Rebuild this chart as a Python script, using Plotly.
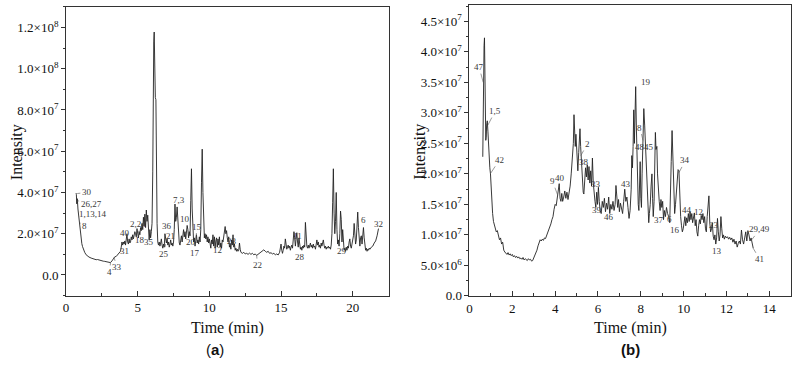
import plotly.graph_objects as go

# ---------------- Panel (a) data (time in min, intensity in 1e7) ----------------
time_a = [0.70,0.72,0.75,0.78,0.80,0.83,0.87,0.90,0.93,0.97,1.00,1.05,1.10,1.15,1.20,1.30,1.40,1.50,1.60,1.75,
          1.90,2.00,2.10,2.20,2.30,2.40,2.50,2.60,2.70,2.80,2.90,3.00,3.10,3.20,3.30,3.40,3.50,3.60,3.70,3.80,
          3.85,3.90,3.95,4.00,4.05,4.10,4.15,4.20,4.25,4.30,4.35,4.40,4.45,4.50,4.55,4.60,4.65,4.70,4.75,4.80,
          4.85,4.90,4.95,5.00,5.05,5.10,5.15,5.20,5.25,5.30,5.35,5.40,5.45,5.50,5.55,5.60,5.65,5.70,5.75,5.80,
          5.85,5.90,5.95,6.00,6.05,6.08,6.12,6.15,6.18,6.20,6.23,6.27,6.30,6.35,6.40,6.45,6.50,6.55,6.60,6.65,
          6.70,6.75,6.80,6.85,6.90,6.95,7.00,7.05,7.10,7.15,7.20,7.25,7.30,7.35,7.40,7.45,7.50,7.55,7.60,7.65,
          7.70,7.75,7.80,7.85,7.90,7.95,8.00,8.05,8.10,8.15,8.20,8.25,8.30,8.35,8.40,8.45,8.50,8.55,8.60,8.65,
          8.70,8.75,8.80,8.85,8.90,8.95,9.00,9.05,9.10,9.15,9.20,9.25,9.30,9.35,9.40,9.45,9.50,9.55,9.60,9.65,
          9.70,9.75,9.80,9.85,9.90,9.95,10.00,10.05,10.10,10.15,10.20,10.25,10.30,10.35,10.40,10.45,10.50,10.55,10.60,10.65,
          10.70,10.75,10.80,10.85,10.90,10.95,11.00,11.05,11.10,11.15,11.20,11.25,11.30,11.35,11.40,11.45,11.50,11.55,11.60,11.65,
          11.70,11.75,11.80,11.85,11.90,11.95,12.00,12.05,12.10,12.15,12.20,12.30,12.40,12.50,12.60,12.70,12.80,12.90,13.00,13.10,
          13.20,13.30,13.40,13.50,13.60,13.70,13.80,13.90,14.00,14.10,14.20,14.30,14.40,14.50,14.60,14.70,14.80,14.90,14.95,15.00,
          15.05,15.10,15.15,15.20,15.25,15.30,15.35,15.40,15.50,15.55,15.60,15.65,15.70,15.75,15.80,15.85,15.90,15.95,16.00,16.05,
          16.10,16.15,16.20,16.25,16.30,16.35,16.40,16.45,16.50,16.55,16.60,16.65,16.70,16.75,16.80,16.85,16.90,16.95,17.00,17.05,
          17.10,17.15,17.20,17.25,17.30,17.35,17.40,17.45,17.50,17.55,17.60,17.65,17.70,17.75,17.80,17.85,17.90,17.95,18.00,18.05,
          18.10,18.15,18.20,18.25,18.30,18.35,18.40,18.45,18.50,18.55,18.60,18.65,18.70,18.75,18.80,18.85,18.90,18.95,19.00,19.05,
          19.10,19.15,19.20,19.25,19.30,19.35,19.40,19.45,19.50,19.55,19.60,19.65,19.70,19.75,19.80,19.85,19.90,19.95,20.00,20.05,
          20.10,20.15,20.20,20.25,20.30,20.35,20.40,20.45,20.50,20.55,20.60,20.65,20.70,20.75,20.80,20.85,20.90,20.95,21.00,21.05,
          21.10,21.15,21.20,21.30,21.40,21.50,21.60,21.70,21.80]
intensity_a = [3.97,3.90,3.45,3.70,3.55,3.20,2.90,2.65,2.45,2.15,1.90,1.70,1.52,1.38,1.25,1.10,0.98,0.92,0.87,0.82,
               0.78,0.76,0.74,0.75,0.72,0.70,0.68,0.67,0.66,0.64,0.63,0.62,0.60,0.68,0.82,0.88,0.90,0.98,1.05,1.15,
               1.35,1.60,1.45,1.60,1.50,1.65,1.45,1.75,2.00,1.60,1.50,1.75,1.55,1.60,1.85,1.70,1.95,1.75,1.90,2.10,
               2.00,1.85,2.25,2.05,1.80,2.10,1.95,2.30,2.15,2.50,2.20,2.80,2.40,2.95,2.30,3.15,2.60,2.90,1.90,1.70,
               2.20,1.80,2.10,2.50,5.00,9.50,11.30,11.78,10.00,11.00,8.60,8.50,5.00,2.50,1.60,1.45,1.60,1.40,1.55,1.75,
               1.45,1.30,1.50,1.35,2.00,1.80,1.55,1.75,1.45,1.60,1.35,1.50,1.70,1.45,1.55,1.40,1.60,2.20,3.44,2.60,
               2.80,3.30,2.50,1.90,1.55,1.45,1.70,1.90,1.60,2.00,2.20,1.85,2.10,1.75,2.05,2.40,2.20,1.80,2.10,1.90,
               3.60,5.15,3.20,2.00,1.60,1.80,1.40,1.65,1.95,1.55,1.70,1.50,1.85,1.60,2.20,4.50,6.10,4.00,2.10,1.80,
               2.00,1.75,1.95,1.60,1.85,1.55,1.75,1.40,1.30,1.70,1.50,1.95,1.40,1.85,1.30,1.65,1.80,1.35,1.75,1.45,
               1.85,1.35,1.55,1.30,1.70,1.60,1.90,2.10,2.35,2.00,2.15,1.80,1.60,1.85,1.35,1.50,1.25,1.70,1.45,1.95,
               1.35,1.50,1.20,1.30,1.15,1.25,1.15,1.20,1.55,1.25,1.10,1.05,1.10,1.02,1.05,1.00,1.06,1.00,1.05,0.98,
               1.02,0.95,1.00,1.05,1.10,1.18,1.22,1.15,1.10,1.15,1.05,1.08,1.02,1.05,0.98,1.02,0.97,1.10,1.35,1.50,
               1.20,1.05,1.20,1.40,1.30,1.75,1.50,1.25,1.45,1.30,1.40,1.20,1.35,1.45,1.30,1.60,2.10,1.80,1.40,1.75,
               2.05,1.60,1.35,1.80,1.40,1.25,1.35,1.20,1.40,1.30,1.45,1.35,2.55,1.80,1.40,1.30,1.45,1.30,1.40,1.55,
               1.35,1.45,1.30,1.50,1.35,1.40,1.25,1.45,1.70,1.45,1.60,1.35,1.45,1.30,1.55,1.40,1.50,1.70,1.45,1.30,
               1.40,1.25,1.35,1.30,1.40,1.30,1.35,1.25,1.45,2.00,3.50,5.15,3.00,2.00,2.60,4.00,2.20,1.50,1.70,1.40,
               2.00,3.10,2.70,1.60,2.20,1.40,1.20,1.30,1.15,1.35,1.20,1.40,1.30,1.60,1.75,1.40,1.30,1.50,1.70,1.90,
               2.50,2.00,1.50,1.70,2.40,3.05,2.30,1.60,1.40,1.80,1.90,1.50,2.00,2.30,1.80,1.40,1.20,1.30,1.15,1.25,
               1.20,1.30,1.25,1.35,1.40,1.55,1.65,1.90,2.25]

# ---------------- Panel (b) data ----------------
time_b = [0.62,0.64,0.66,0.68,0.70,0.72,0.74,0.76,0.78,0.80,0.83,0.86,0.89,0.92,0.95,0.98,1.01,1.04,1.08,1.12,
          1.16,1.20,1.25,1.30,1.35,1.40,1.45,1.50,1.55,1.60,1.65,1.70,1.75,1.80,1.85,1.90,1.95,2.00,2.05,2.10,
          2.15,2.20,2.25,2.30,2.35,2.40,2.45,2.50,2.55,2.60,2.65,2.70,2.75,2.80,2.85,2.90,2.95,3.00,3.05,3.10,
          3.15,3.20,3.25,3.30,3.35,3.40,3.45,3.50,3.55,3.60,3.65,3.70,3.75,3.80,3.85,3.90,3.95,4.00,4.05,4.10,
          4.15,4.19,4.23,4.27,4.31,4.35,4.40,4.45,4.50,4.55,4.60,4.65,4.70,4.75,4.80,4.85,4.88,4.91,4.94,4.97,
          5.00,5.03,5.06,5.10,5.13,5.16,5.19,5.22,5.25,5.28,5.31,5.34,5.38,5.42,5.46,5.50,5.54,5.58,5.62,5.66,
          5.70,5.74,5.78,5.82,5.86,5.90,5.94,5.98,6.02,6.06,6.10,6.15,6.20,6.25,6.30,6.35,6.40,6.45,6.50,6.55,
          6.60,6.65,6.70,6.75,6.80,6.84,6.88,6.92,6.96,7.00,7.05,7.10,7.15,7.20,7.25,7.30,7.35,7.40,7.45,7.50,
          7.55,7.58,7.61,7.64,7.67,7.70,7.73,7.76,7.79,7.82,7.85,7.88,7.91,7.94,7.97,8.00,8.03,8.06,8.10,8.14,
          8.18,8.22,8.26,8.30,8.34,8.37,8.40,8.44,8.48,8.52,8.55,8.58,8.62,8.65,8.68,8.71,8.75,8.78,8.82,8.86,
          8.90,8.94,8.98,9.02,9.06,9.10,9.15,9.20,9.25,9.30,9.35,9.38,9.42,9.46,9.50,9.54,9.58,9.62,9.66,9.70,
          9.74,9.78,9.82,9.86,9.90,9.94,9.98,10.02,10.06,10.10,10.14,10.18,10.22,10.26,10.30,10.34,10.38,10.42,10.46,10.50,
          10.54,10.58,10.62,10.66,10.70,10.74,10.78,10.82,10.86,10.90,10.94,10.98,11.02,11.06,11.10,11.14,11.18,11.22,11.26,11.30,
          11.34,11.38,11.42,11.46,11.50,11.54,11.58,11.62,11.66,11.70,11.74,11.78,11.82,11.86,11.90,11.95,12.00,12.05,12.10,12.15,
          12.20,12.25,12.30,12.35,12.40,12.45,12.50,12.55,12.60,12.65,12.70,12.75,12.80,12.85,12.90,12.95,13.00,13.05,13.10,13.15,
          13.20,13.25]
intensity_b = [2.28,3.60,3.40,4.10,4.23,3.50,3.00,2.55,2.60,2.80,2.87,2.70,2.40,2.25,2.10,2.00,1.75,1.51,1.35,1.22,
               1.15,1.12,1.05,1.07,0.98,0.92,0.95,0.85,0.88,0.75,0.72,0.70,0.68,0.71,0.67,0.69,0.66,0.68,0.64,0.66,
               0.63,0.65,0.62,0.64,0.61,0.62,0.60,0.63,0.59,0.61,0.60,0.58,0.61,0.59,0.60,0.57,0.58,0.62,0.66,0.70,
               0.75,0.82,0.88,0.92,0.90,0.93,0.91,0.95,0.94,0.99,1.03,1.06,1.12,1.18,1.25,1.30,1.42,1.50,1.48,1.62,
               1.70,1.84,1.60,1.55,1.68,1.55,1.62,1.72,1.60,1.70,1.58,1.68,1.80,2.00,2.20,2.50,2.97,2.70,2.45,2.65,
               2.40,2.20,2.05,2.35,2.60,2.74,2.45,2.20,2.00,1.80,1.70,1.67,1.90,2.10,1.95,2.15,1.90,2.12,1.85,2.05,
               1.80,2.26,1.85,1.65,1.55,1.45,1.70,1.50,1.78,1.55,1.40,1.35,1.55,1.45,1.60,1.38,1.52,1.42,1.62,1.35,
               1.50,1.42,1.55,1.40,1.50,1.81,1.55,1.45,1.58,1.38,1.52,1.40,1.35,1.55,1.75,1.55,1.62,1.45,1.27,1.40,
               1.75,2.30,2.10,2.45,3.05,2.50,2.90,3.43,2.80,2.30,1.90,1.50,1.40,1.70,2.20,1.60,1.45,2.00,2.60,3.07,
               2.80,2.40,2.00,1.70,1.40,1.20,1.35,1.50,1.80,2.00,1.60,1.30,1.55,2.20,2.68,2.40,2.45,2.00,1.65,1.55,
               1.40,1.58,1.45,1.55,1.25,1.40,1.30,1.45,1.35,1.30,1.20,1.50,2.20,2.71,2.30,1.60,1.35,1.50,1.75,2.00,
               2.07,2.05,1.60,1.30,1.15,1.05,1.10,1.20,1.30,1.15,1.28,1.20,1.35,1.22,1.38,1.25,1.35,1.20,1.32,1.36,
               1.15,1.25,1.05,0.98,1.15,1.25,1.18,1.32,1.25,1.35,1.20,1.30,1.10,1.05,1.30,1.50,1.64,1.20,1.05,1.10,
               1.20,0.98,0.92,1.00,0.85,0.95,1.27,1.05,0.90,1.00,1.30,1.10,0.95,1.00,0.93,0.98,0.95,0.97,0.93,0.96,
               0.92,0.95,0.88,0.93,0.85,0.90,0.80,0.86,0.90,0.85,1.08,0.92,0.85,0.95,1.05,0.90,1.07,1.00,0.90,0.95,
               0.85,0.78]

# Peak labels: (text, label_x, label_y, target_x or None, target_y)
labels_a = [("30", 1.45, 4.00, 0.78, 3.95), ("26,27", 1.75, 3.45, 0.80, 3.60), ("1,13,14", 1.85, 2.97, 0.86, 3.05),
            ("8", 1.30, 2.38, 0.93, 2.55), ("4", 3.05, 0.15, 3.10, 0.60), ("33", 3.55, 0.37, 3.35, 0.85),
            ("31", 4.05, 1.14, 3.85, 1.35), ("40", 4.08, 2.06, None, None), ("2,24", 5.00, 2.46, 5.10, 2.05),
            ("18", 5.17, 1.70, None, None), ("35", 5.80, 1.59, None, None), ("36", 7.07, 2.39, None, None),
            ("21", 7.30, 1.89, 7.15, 1.60), ("25", 6.80, 1.03, 6.95, 1.50), ("7,3", 7.90, 3.65, None, None),
            ("10", 8.30, 2.73, 8.45, 2.40), ("15", 9.14, 2.35, 9.05, 1.70), ("20", 8.70, 1.60, None, None),
            ("17", 9.00, 1.08, None, None), ("12", 10.60, 1.22, None, None), ("23", 11.55, 1.66, None, None),
            ("22", 13.35, 0.48, 13.30, 0.95), ("11", 16.16, 1.87, None, None), ("28", 16.34, 0.87, None, None),
            ("29", 19.25, 1.14, None, None), ("6", 20.75, 2.65, None, None), ("32", 21.80, 2.49, None, None)]
labels_b = [("47", 0.45, 3.75, 0.64, 3.50), ("1,5", 1.20, 3.03, 0.86, 2.80), ("42", 1.40, 2.23, 0.97, 2.00),
            ("9", 3.88, 1.88, 4.12, 1.65), ("40", 4.22, 1.93, None, None), ("2", 5.50, 2.49, 5.20, 2.30),
            ("38", 5.35, 2.19, None, None), ("33", 5.92, 1.84, None, None), ("39", 5.97, 1.41, None, None),
            ("46", 6.51, 1.29, None, None), ("43", 7.29, 1.83, None, None), ("19", 8.25, 3.50, None, None),
            ("8", 7.96, 2.76, 8.10, 2.55), ("48", 7.94, 2.44, None, None), ("45", 8.37, 2.44, None, None),
            ("34", 10.08, 2.22, 9.78, 2.02), ("37", 8.84, 1.24, None, None), ("6", 9.35, 1.26, None, None),
            ("16", 9.61, 1.08, 9.92, 1.08), ("44", 10.17, 1.40, None, None), ("12", 10.68, 1.37, None, None),
            ("23", 11.44, 1.17, None, None), ("13", 11.55, 0.74, None, None), ("29,49", 13.55, 1.09, 13.18, 0.92),
            ("41", 13.55, 0.60, 13.25, 0.78)]

SCALE = 1e7
SERIF = "Liberation Serif, Times New Roman, serif"
AX = "#333333"
LABEL_FONT = dict(family=SERIF, size=9, color="#3a3a3a")

fig = go.Figure()
fig.add_trace(go.Scatter(x=time_a, y=[v * SCALE for v in intensity_a], mode="lines",
                         line=dict(color="#222222", width=0.9), xaxis="x", yaxis="y", showlegend=False))
fig.add_trace(go.Scatter(x=time_b, y=[v * SCALE for v in intensity_b], mode="lines",
                         line=dict(color="#222222", width=0.9), xaxis="x2", yaxis="y2", showlegend=False))

ya_vals = [0, 2e7, 4e7, 6e7, 8e7, 1e8, 1.2e8]
ya_text = ["0.0", "2.0×10<sup>7</sup>", "4.0×10<sup>7</sup>", "6.0×10<sup>7</sup>", "8.0×10<sup>7</sup>",
           "1.0×10<sup>8</sup>", "1.2×10<sup>8</sup>"]
yb_vals = [i * 0.5e7 for i in range(10)]
yb_text = ["0.0", "5.0×10<sup>6</sup>"] + ["%.1f×10<sup>7</sup>" % (v / 1e7) for v in yb_vals[2:]]

common_axis = dict(showline=True, linecolor=AX, linewidth=1, mirror=True, showgrid=False, zeroline=False,
                   tickfont=dict(family=SERIF, size=13, color="#111111"), tickcolor=AX)

fig.update_layout(
    width=795, height=379, margin=dict(l=0, r=0, t=0, b=0),
    paper_bgcolor="white", plot_bgcolor="white",
    xaxis=dict(domain=[0.0796, 0.4868], range=[0, 22.5], tickvals=[0, 5, 10, 15, 20], ticks="inside", ticklen=5,
               minor=dict(dtick=2.5, tick0=0, ticks="inside", ticklen=3, tickcolor=AX), anchor="y", **common_axis),
    yaxis=dict(domain=[0.2032, 0.9815], range=[-1e7, 1.3e8], tickvals=ya_vals, ticktext=ya_text, ticks="outside",
               ticklen=4, minor=dict(dtick=1e7, tick0=0, ticks="outside", ticklen=2, tickcolor=AX), anchor="x",
               **common_axis),
    xaxis2=dict(domain=[0.589, 0.9946], range=[0, 15], tickvals=list(range(0, 15, 2)), ticks="inside", ticklen=5,
                minor=dict(dtick=1, tick0=0, ticks="inside", ticklen=3, tickcolor=AX), anchor="y2", **common_axis),
    yaxis2=dict(domain=[0.2024, 0.9868], range=[0, 4.77e7], tickvals=yb_vals, ticktext=yb_text, ticks="outside",
                ticklen=4, minor=dict(dtick=0.25e7, tick0=0, ticks="outside", ticklen=2, tickcolor=AX), anchor="x2",
                **common_axis),
)

annotations = []
for (xa, ya), labels in ((("x", "y"), labels_a), (("x2", "y2"), labels_b)):
    for text, lx, ly, tx, ty in labels:
        if tx is None:
            annotations.append(dict(x=lx, y=ly * SCALE, xref=xa, yref=ya, text=text, showarrow=False,
                                    font=LABEL_FONT))
        else:
            annotations.append(dict(x=tx, y=ty * SCALE, xref=xa, yref=ya, ax=lx, ay=ly * SCALE,
                                    axref=xa, ayref=ya, text=text, showarrow=True, arrowhead=0,
                                    arrowwidth=0.6, arrowcolor="#555555", standoff=0, font=LABEL_FONT))

# axis titles and captions
for x, y, t, ang in ((13.5, 155, "Intensity", -90), (225.5, 335, "Time (min)", 0),
                     (418.5, 155, "Intensity", -90), (630, 335, "Time (min)", 0)):
    annotations.append(dict(x=x / 795, y=1 - y / 379, xref="paper", yref="paper", text=t, showarrow=False,
                            textangle=ang, font=dict(family=SERIF, size=16, color="#111111"),
                            xanchor="center", yanchor="middle"))
for x, t in ((213, "(<b>a</b>)"), (630, "<b>(b)</b>")):
    annotations.append(dict(x=x / 795, y=1 - 357 / 379, xref="paper", yref="paper", text=t, showarrow=False,
                            font=dict(family="Liberation Sans, Arial, sans-serif", size=15, color="#111111"),
                            xanchor="center", yanchor="middle"))

fig.update_layout(annotations=annotations)
fig.write_html("out.html")
